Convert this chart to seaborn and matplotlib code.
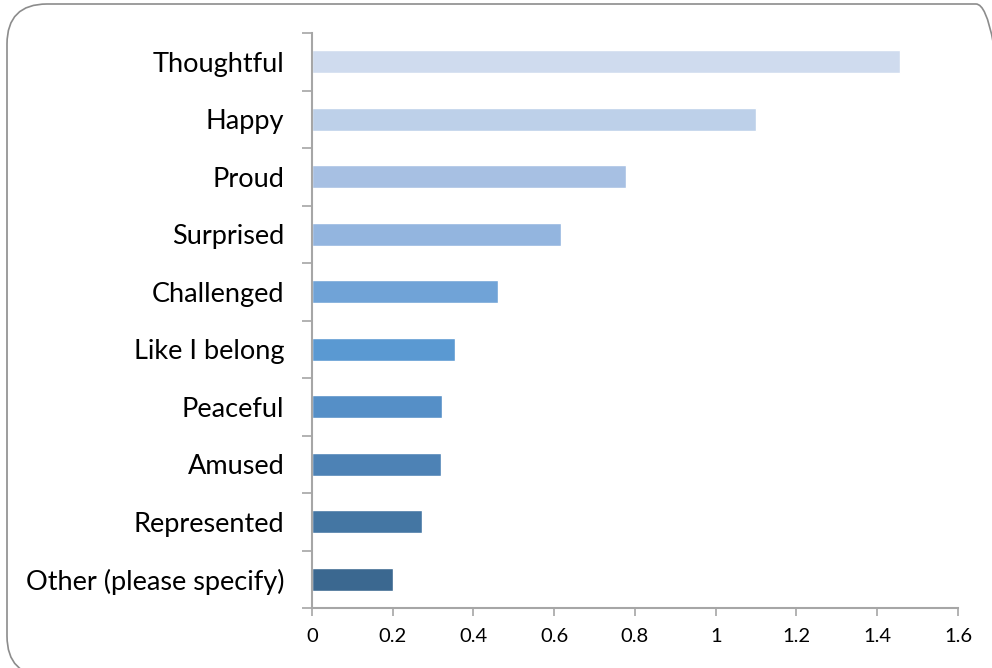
import numpy as np
import pandas as pd
import matplotlib
matplotlib.use("Agg")
import matplotlib.pyplot as plt
from matplotlib.patches import FancyBboxPatch
from matplotlib.ticker import FixedLocator
from matplotlib.transforms import IdentityTransform
import seaborn as sns

# data
feelings = ["Thoughtful", "Happy", "Proud", "Surprised", "Challenged",
            "Like I belong", "Peaceful", "Amused", "Represented",
            "Other (please specify)"]
scores = [1.456, 1.10, 0.778, 0.617, 0.461, 0.354, 0.322, 0.320, 0.272, 0.20]
bar_colors = ["#CFDBEE", "#BDD0E9", "#A7C0E3", "#93B5DF", "#70A3D7",
              "#5A99D2", "#558FC7", "#4D82B5", "#4476A3", "#3B6890"]
xticks = [0, 0.2, 0.4, 0.6, 0.8, 1, 1.2, 1.4, 1.6]

df = pd.DataFrame({"feeling": feelings, "score": scores})

sns.set_style("white")
plt.rcParams["font.family"] = ["Lato", "DejaVu Sans"]

fig = plt.figure(figsize=(9.92, 6.68), dpi=100)
ax = fig.add_axes([0.3145, 0.0898, 0.6512, 0.8608])

sns.barplot(data=df, x="score", y="feeling", hue="feeling", palette=bar_colors,
            order=feelings, legend=False, width=0.4, saturation=1, ax=ax)

ax.set_xlim(0, 1.6)
ax.set_ylim(len(feelings) - 0.5, -0.5)
ax.set_xticks(xticks)
ax.set_xticklabels([f"{t:g}" for t in xticks], fontsize=14.5, color="black")
ax.set_xlabel("")
ax.set_ylabel("")

# category labels at centres, tick marks on the boundaries
ax.tick_params(axis="y", which="major", length=0, labelsize=19.5, labelcolor="black", pad=20)
ax.yaxis.set_minor_locator(FixedLocator(np.arange(-0.5, len(feelings), 1)))
ax.tick_params(axis="y", which="minor", length=7, width=1.2, color="#A6A6A6", left=True)
ax.tick_params(axis="x", length=5.5, width=1.2, color="#A6A6A6", bottom=True, pad=9)

for s in ["top", "right"]:
    ax.spines[s].set_visible(False)
for s in ["left", "bottom"]:
    ax.spines[s].set_color("#A6A6A6")
    ax.spines[s].set_linewidth(1.5)

# rounded outer frame, partly running off the image like the original
frame = FancyBboxPatch((7, -8), 1009, 672,
                       boxstyle="round,pad=0,rounding_size=40",
                       transform=IdentityTransform(), fill=False,
                       edgecolor="#8C8C8C", linewidth=1.2, clip_on=False)
fig.patches.append(frame)

fig.savefig("out.png", dpi=100)
